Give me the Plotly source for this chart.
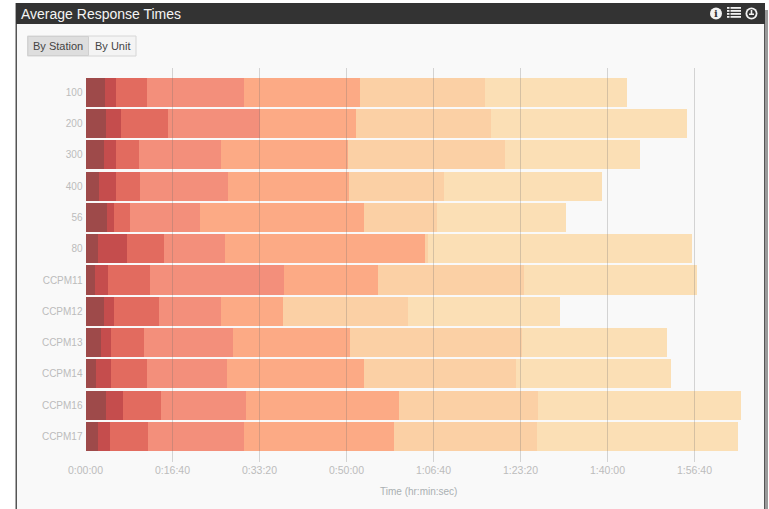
import plotly.graph_objects as go

W, H = 769, 509
stations = ["100", "200", "300", "400", "56", "80", "CCPM11", "CCPM12", "CCPM13", "CCPM14", "CCPM16", "CCPM17"]
seg1 = [224, 236, 213, 155, 247, 144, 109, 213, 178, 121, 236, 144]
seg2 = [126, 172, 138, 195, 80, 333, 149, 115, 115, 172, 195, 138]
seg3 = [356, 540, 264, 276, 184, 425, 483, 517, 379, 414, 437, 437]
seg4 = [1115, 1057, 943, 1011, 805, 701, 1540, 713, 1023, 920, 977, 1103]
seg5 = [1333, 1103, 1460, 1391, 1885, 2299, 1080, 713, 1345, 1575, 1759, 1724]
seg6 = [1437, 1552, 1805, 1092, 839, 34, 1678, 1437, 1977, 1747, 1598, 1644]
seg7 = [1632, 2253, 1552, 1816, 1483, 3034, 1989, 1747, 1667, 1782, 2333, 2310]
series = [seg1, seg2, seg3, seg4, seg5, seg6, seg7]
colors = ["#9e4a4a", "#c54d4d", "#e26b5f", "#f38f7b", "#fcaa85", "#fbd0a5", "#fbdfb5"]
tick_vals = [0, 1000, 2000, 3000, 4000, 5000, 6000, 7000]
tick_text = ["0:00:00", "0:16:40", "0:33:20", "0:50:00", "1:06:40", "1:23:20", "1:40:00", "1:56:40"]

FONT = "Liberation Sans, Arial, sans-serif"
px = lambda x: x / W
py = lambda y: 1 - y / H

fig = go.Figure()
for s, c in zip(series, colors):
    fig.add_trace(go.Bar(y=stations, x=s, orientation="h", marker=dict(color=c, line_width=0), hoverinfo="skip"))


def rect(x0, y0, x1, y1, fill, line=None, lw=1, layer="below"):
    return dict(type="rect", xref="paper", yref="paper", x0=px(x0), x1=px(x1), y0=py(y0), y1=py(y1),
                fillcolor=fill, line=dict(color=line or fill, width=lw if line else 0), layer=layer)


def circle(cx, cy, r, fill):
    return dict(type="circle", xref="paper", yref="paper", x0=px(cx - r), x1=px(cx + r), y0=py(cy - r), y1=py(cy + r),
                fillcolor=fill, line=dict(width=0), layer="above")


shapes = [
    rect(18, 10, 768, 509, "#9a9a9a"),
    rect(15.5, 3, 765, 509, "#555555"),
    rect(17, 24, 764, 509, "#f9f9f9"),
    rect(16, 3, 765, 24, "#333333"),
    rect(27.5, 36, 136, 56, "#f4f4f4", "#d6d6d6"),
    rect(28, 36.5, 88.5, 55.5, "#dedede", "#d0d0d0"),
    circle(716, 13.5, 6, "#f2f2f2"),
    circle(751.5, 13.5, 6, "#f2f2f2"),
    circle(751.5, 13.5, 4.2, "#333333"),
    rect(750.7, 10, 752.3, 14.5, "#f2f2f2", layer="above"),
    rect(749, 13.5, 754, 15, "#f2f2f2", layer="above"),
]
for yy in (8, 11, 14, 17):
    shapes.append(rect(727, yy - 1, 729.5, yy + 0.8, "#f2f2f2", layer="above"))
    shapes.append(rect(730.5, yy - 1, 741, yy + 0.8, "#f2f2f2", layer="above"))

annotations = [
    dict(text="Average Response Times", x=px(19), y=py(14), xanchor="left", yanchor="middle", xref="paper",
         yref="paper", showarrow=False, font=dict(family=FONT, size=14, color="#f4f4f4")),
    dict(text="By Station", x=px(58), y=py(46), xanchor="center", yanchor="middle", xref="paper", yref="paper",
         showarrow=False, font=dict(family=FONT, size=11, color="#444444")),
    dict(text="By Unit", x=px(112.5), y=py(46), xanchor="center", yanchor="middle", xref="paper", yref="paper",
         showarrow=False, font=dict(family=FONT, size=11, color="#444444")),
    dict(text="<b>i</b>", x=px(716), y=py(13.5), xanchor="center", yanchor="middle", xref="paper", yref="paper",
         showarrow=False, font=dict(family="DejaVu Serif", size=10, color="#333333")),
    dict(text="Time (hr:min:sec)", x=px(419), y=py(491.5), xanchor="center", yanchor="middle", xref="paper",
         yref="paper", showarrow=False, font=dict(family=FONT, size=10, color="#aab0b2")),
]

fig.update_layout(
    width=W, height=H, barmode="stack", bargap=0.07, showlegend=False,
    margin=dict(l=0, r=0, t=0, b=0, pad=0), paper_bgcolor="#ffffff", plot_bgcolor="rgba(0,0,0,0)",
    shapes=shapes, annotations=annotations,
    xaxis=dict(domain=[px(85.5), px(755)], range=[0, (755 - 85.5) / 0.087], tickmode="array", tickvals=tick_vals,
               ticktext=tick_text, showgrid=False, zeroline=False, showline=False, ticks="inside", ticklen=394,
               tickwidth=1, tickcolor="rgba(110,110,110,0.27)", layer="above traces", automargin=False,
               tickfont=dict(family=FONT, size=10.5, color="#bcbcbc")),
    yaxis=dict(domain=[py(462), py(68)], range=[11.82, -0.78], type="category", showgrid=False, zeroline=False,
               showline=False, ticks="", automargin=False, ticklabelstandoff=2,
               tickfont=dict(family=FONT, size=10, color="#bcbcbc")),
)
fig.write_html("out.html", post_script="document.body.style.margin='0';", config={"displayModeBar": False})
